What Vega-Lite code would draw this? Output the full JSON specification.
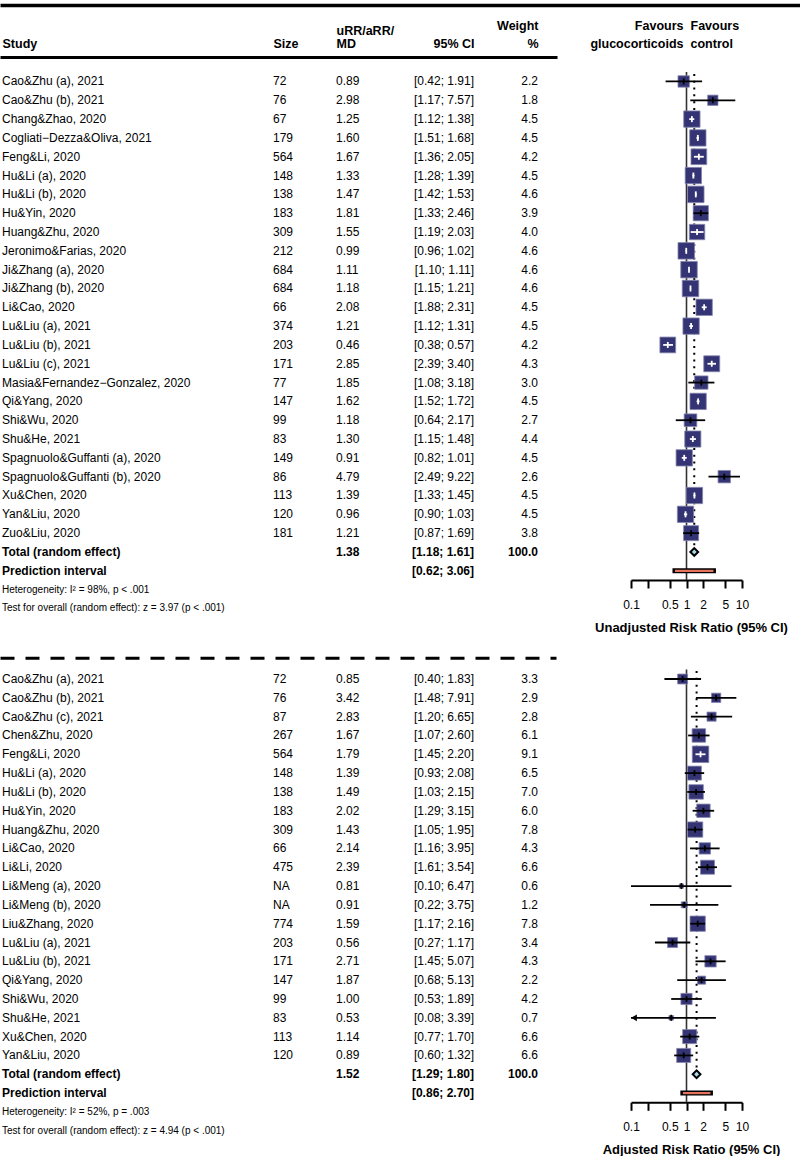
{
  "$schema": "https://vega.github.io/schema/vega-lite/v6.json",
  "padding": {"left": 0, "top": 5, "right": 0, "bottom": 0},
  "background": "white",
  "config": {
    "view": {"stroke": null},
    "font": "Liberation Sans",
    "text": {"font": "Liberation Sans", "fontSize": 12, "color": "black"},
    "axisTop": {"ticks": false, "labels": false, "grid": false, "domainColor": "black", "domainWidth": 3, "domainCap": "butt", "titleFont": "Liberation Sans Narrow, Arial Narrow, Liberation Sans", "titleFontSize": 12.5, "titleFontWeight": "bold", "titleColor": "black", "titlePadding": 7},
    "axisBottom": {"domainColor": "black", "domainWidth": 2, "tickColor": "black", "tickWidth": 2, "tickSize": 8, "labelFont": "Liberation Sans", "labelFontSize": 12, "labelColor": "black", "labelPadding": 11, "labelFlush": false, "labelOverlap": false, "labelBound": false, "titleFont": "Liberation Sans", "titleFontSize": 13, "titleFontWeight": "bold", "titleColor": "black", "titlePadding": 11, "grid": false}
  },
  "datasets": {
    "top": [
      {"row": 0, "kind": "study", "study": "Cao&Zhu (a), 2021", "size": "72", "est": 0.89, "lo": 0.42, "hi": 1.91, "ci": "[0.42; 1.91]", "w": 2.2},
      {"row": 1, "kind": "study", "study": "Cao&Zhu (b), 2021", "size": "76", "est": 2.98, "lo": 1.17, "hi": 7.57, "ci": "[1.17; 7.57]", "w": 1.8},
      {"row": 2, "kind": "study", "study": "Chang&Zhao, 2020", "size": "67", "est": 1.25, "lo": 1.12, "hi": 1.38, "ci": "[1.12; 1.38]", "w": 4.5},
      {"row": 3, "kind": "study", "study": "Cogliati−Dezza&Oliva, 2021", "size": "179", "est": 1.60, "lo": 1.51, "hi": 1.68, "ci": "[1.51; 1.68]", "w": 4.5},
      {"row": 4, "kind": "study", "study": "Feng&Li, 2020", "size": "564", "est": 1.67, "lo": 1.36, "hi": 2.05, "ci": "[1.36; 2.05]", "w": 4.2},
      {"row": 5, "kind": "study", "study": "Hu&Li (a), 2020", "size": "148", "est": 1.33, "lo": 1.28, "hi": 1.39, "ci": "[1.28; 1.39]", "w": 4.5},
      {"row": 6, "kind": "study", "study": "Hu&Li (b), 2020", "size": "138", "est": 1.47, "lo": 1.42, "hi": 1.53, "ci": "[1.42; 1.53]", "w": 4.6},
      {"row": 7, "kind": "study", "study": "Hu&Yin, 2020", "size": "183", "est": 1.81, "lo": 1.33, "hi": 2.46, "ci": "[1.33; 2.46]", "w": 3.9},
      {"row": 8, "kind": "study", "study": "Huang&Zhu, 2020", "size": "309", "est": 1.55, "lo": 1.19, "hi": 2.03, "ci": "[1.19; 2.03]", "w": 4.0},
      {"row": 9, "kind": "study", "study": "Jeronimo&Farias, 2020", "size": "212", "est": 0.99, "lo": 0.96, "hi": 1.02, "ci": "[0.96; 1.02]", "w": 4.6},
      {"row": 10, "kind": "study", "study": "Ji&Zhang (a), 2020", "size": "684", "est": 1.11, "lo": 1.10, "hi": 1.11, "ci": "[1.10; 1.11]", "w": 4.6},
      {"row": 11, "kind": "study", "study": "Ji&Zhang (b), 2020", "size": "684", "est": 1.18, "lo": 1.15, "hi": 1.21, "ci": "[1.15; 1.21]", "w": 4.6},
      {"row": 12, "kind": "study", "study": "Li&Cao, 2020", "size": "66", "est": 2.08, "lo": 1.88, "hi": 2.31, "ci": "[1.88; 2.31]", "w": 4.5},
      {"row": 13, "kind": "study", "study": "Lu&Liu (a), 2021", "size": "374", "est": 1.21, "lo": 1.12, "hi": 1.31, "ci": "[1.12; 1.31]", "w": 4.5},
      {"row": 14, "kind": "study", "study": "Lu&Liu (b), 2021", "size": "203", "est": 0.46, "lo": 0.38, "hi": 0.57, "ci": "[0.38; 0.57]", "w": 4.2},
      {"row": 15, "kind": "study", "study": "Lu&Liu (c), 2021", "size": "171", "est": 2.85, "lo": 2.39, "hi": 3.40, "ci": "[2.39; 3.40]", "w": 4.3},
      {"row": 16, "kind": "study", "study": "Masia&Fernandez−Gonzalez, 2020", "size": "77", "est": 1.85, "lo": 1.08, "hi": 3.18, "ci": "[1.08; 3.18]", "w": 3.0},
      {"row": 17, "kind": "study", "study": "Qi&Yang, 2020", "size": "147", "est": 1.62, "lo": 1.52, "hi": 1.72, "ci": "[1.52; 1.72]", "w": 4.5},
      {"row": 18, "kind": "study", "study": "Shi&Wu, 2020", "size": "99", "est": 1.18, "lo": 0.64, "hi": 2.17, "ci": "[0.64; 2.17]", "w": 2.7},
      {"row": 19, "kind": "study", "study": "Shu&He, 2021", "size": "83", "est": 1.30, "lo": 1.15, "hi": 1.48, "ci": "[1.15; 1.48]", "w": 4.4},
      {"row": 20, "kind": "study", "study": "Spagnuolo&Guffanti (a), 2020", "size": "149", "est": 0.91, "lo": 0.82, "hi": 1.01, "ci": "[0.82; 1.01]", "w": 4.5},
      {"row": 21, "kind": "study", "study": "Spagnuolo&Guffanti (b), 2020", "size": "86", "est": 4.79, "lo": 2.49, "hi": 9.22, "ci": "[2.49; 9.22]", "w": 2.6},
      {"row": 22, "kind": "study", "study": "Xu&Chen, 2020", "size": "113", "est": 1.39, "lo": 1.33, "hi": 1.45, "ci": "[1.33; 1.45]", "w": 4.5},
      {"row": 23, "kind": "study", "study": "Yan&Liu, 2020", "size": "120", "est": 0.96, "lo": 0.90, "hi": 1.03, "ci": "[0.90; 1.03]", "w": 4.5},
      {"row": 24, "kind": "study", "study": "Zuo&Liu, 2020", "size": "181", "est": 1.21, "lo": 0.87, "hi": 1.69, "ci": "[0.87; 1.69]", "w": 3.8},
      {"row": 25, "kind": "total", "study": "Total (random effect)", "est": 1.38, "lo": 1.18, "hi": 1.61, "ci": "[1.18; 1.61]", "w": 100.0},
      {"row": 26, "kind": "pi", "study": "Prediction interval", "lo": 0.62, "hi": 3.06, "ci": "[0.62; 3.06]"},
      {"row": 27, "kind": "het", "study": "Heterogeneity: I² = 98%, p < .001"},
      {"row": 28, "kind": "het", "study": "Test for overall (random effect): z = 3.97 (p < .001)"}
    ],
    "bot": [
      {"row": 0, "kind": "study", "study": "Cao&Zhu (a), 2021", "size": "72", "est": 0.85, "lo": 0.40, "hi": 1.83, "ci": "[0.40; 1.83]", "w": 3.3},
      {"row": 1, "kind": "study", "study": "Cao&Zhu (b), 2021", "size": "76", "est": 3.42, "lo": 1.48, "hi": 7.91, "ci": "[1.48; 7.91]", "w": 2.9},
      {"row": 2, "kind": "study", "study": "Cao&Zhu (c), 2021", "size": "87", "est": 2.83, "lo": 1.20, "hi": 6.65, "ci": "[1.20; 6.65]", "w": 2.8},
      {"row": 3, "kind": "study", "study": "Chen&Zhu, 2020", "size": "267", "est": 1.67, "lo": 1.07, "hi": 2.60, "ci": "[1.07; 2.60]", "w": 6.1},
      {"row": 4, "kind": "study", "study": "Feng&Li, 2020", "size": "564", "est": 1.79, "lo": 1.45, "hi": 2.20, "ci": "[1.45; 2.20]", "w": 9.1},
      {"row": 5, "kind": "study", "study": "Hu&Li (a), 2020", "size": "148", "est": 1.39, "lo": 0.93, "hi": 2.08, "ci": "[0.93; 2.08]", "w": 6.5},
      {"row": 6, "kind": "study", "study": "Hu&Li (b), 2020", "size": "138", "est": 1.49, "lo": 1.03, "hi": 2.15, "ci": "[1.03; 2.15]", "w": 7.0},
      {"row": 7, "kind": "study", "study": "Hu&Yin, 2020", "size": "183", "est": 2.02, "lo": 1.29, "hi": 3.15, "ci": "[1.29; 3.15]", "w": 6.0},
      {"row": 8, "kind": "study", "study": "Huang&Zhu, 2020", "size": "309", "est": 1.43, "lo": 1.05, "hi": 1.95, "ci": "[1.05; 1.95]", "w": 7.8},
      {"row": 9, "kind": "study", "study": "Li&Cao, 2020", "size": "66", "est": 2.14, "lo": 1.16, "hi": 3.95, "ci": "[1.16; 3.95]", "w": 4.3},
      {"row": 10, "kind": "study", "study": "Li&Li, 2020", "size": "475", "est": 2.39, "lo": 1.61, "hi": 3.54, "ci": "[1.61; 3.54]", "w": 6.6},
      {"row": 11, "kind": "study", "study": "Li&Meng (a), 2020", "size": "NA", "est": 0.81, "lo": 0.10, "hi": 6.47, "ci": "[0.10; 6.47]", "w": 0.6},
      {"row": 12, "kind": "study", "study": "Li&Meng (b), 2020", "size": "NA", "est": 0.91, "lo": 0.22, "hi": 3.75, "ci": "[0.22; 3.75]", "w": 1.2},
      {"row": 13, "kind": "study", "study": "Liu&Zhang, 2020", "size": "774", "est": 1.59, "lo": 1.17, "hi": 2.16, "ci": "[1.17; 2.16]", "w": 7.8},
      {"row": 14, "kind": "study", "study": "Lu&Liu (a), 2021", "size": "203", "est": 0.56, "lo": 0.27, "hi": 1.17, "ci": "[0.27; 1.17]", "w": 3.4},
      {"row": 15, "kind": "study", "study": "Lu&Liu (b), 2021", "size": "171", "est": 2.71, "lo": 1.45, "hi": 5.07, "ci": "[1.45; 5.07]", "w": 4.3},
      {"row": 16, "kind": "study", "study": "Qi&Yang, 2020", "size": "147", "est": 1.87, "lo": 0.68, "hi": 5.13, "ci": "[0.68; 5.13]", "w": 2.2},
      {"row": 17, "kind": "study", "study": "Shi&Wu, 2020", "size": "99", "est": 1.00, "lo": 0.53, "hi": 1.89, "ci": "[0.53; 1.89]", "w": 4.2},
      {"row": 18, "kind": "study", "study": "Shu&He, 2021", "size": "83", "est": 0.53, "lo": 0.08, "hi": 3.39, "ci": "[0.08; 3.39]", "w": 0.7},
      {"row": 19, "kind": "study", "study": "Xu&Chen, 2020", "size": "113", "est": 1.14, "lo": 0.77, "hi": 1.70, "ci": "[0.77; 1.70]", "w": 6.6},
      {"row": 20, "kind": "study", "study": "Yan&Liu, 2020", "size": "120", "est": 0.89, "lo": 0.60, "hi": 1.32, "ci": "[0.60; 1.32]", "w": 6.6},
      {"row": 21, "kind": "total", "study": "Total (random effect)", "est": 1.52, "lo": 1.29, "hi": 1.80, "ci": "[1.29; 1.80]", "w": 100.0},
      {"row": 22, "kind": "pi", "study": "Prediction interval", "lo": 0.86, "hi": 2.70, "ci": "[0.86; 2.70]"},
      {"row": 23, "kind": "het", "study": "Heterogeneity: I² = 52%, p = .003"},
      {"row": 24, "kind": "het", "study": "Test for overall (random effect): z = 4.94 (p < .001)"}
    ]
  },
  "resolve": {"scale": {"size": "independent"}},
  "spacing": 0,
  "bounds": "flush",
  "vconcat": [
    {
      "width": 800, "height": 52,
      "data": {"values": [{}]},
      "mark": {"type": "rule", "opacity": 0},
      "encoding": {"x": {"datum": 0, "type": "quantitative", "scale": {"domain": [0, 1]}, "axis": {"orient": "top", "title": null, "domainWidth": 3.5}}}
    },
    {
      "width": 742, "height": 523, "data": {"name": "top"},
      "resolve": {"scale": {"x": "independent"}, "axis": {"x": "independent"}},
      "encoding": {"y": {"field": "row", "type": "quantitative", "scale": {"domain": [-1.3, 26.49], "reverse": true, "nice": false, "zero": false}, "axis": null}},
      "layer": [
        {
          "encoding": {"x": {"datum": 0, "type": "quantitative", "scale": {"domain": [0, 1], "range": [0, 557]}, "axis": {"orient": "top", "title": "Study", "titleAnchor": "start", "titleAlign": "left", "titleX": 2}}},
          "layer": [
            {"transform": [{"filter": "datum.kind == 'study'"}], "mark": {"type": "text", "align": "left", "baseline": "middle", "dx": 2}, "encoding": {"text": {"field": "study", "type": "nominal"}}},
            {"transform": [{"filter": "datum.kind == 'total' || datum.kind == 'pi'"}], "mark": {"type": "text", "align": "left", "baseline": "middle", "dx": 2, "fontWeight": "bold"}, "encoding": {"text": {"field": "study", "type": "nominal"}}},
            {"transform": [{"filter": "datum.kind == 'het'"}], "mark": {"type": "text", "align": "left", "baseline": "middle", "dx": 2, "fontSize": 10}, "encoding": {"text": {"field": "study", "type": "nominal"}}}
          ]
        },
        {
          "transform": [{"filter": "datum.kind == 'study'"}],
          "mark": {"type": "text", "align": "left", "baseline": "middle"},
          "encoding": {
            "x": {"datum": 0, "type": "quantitative", "scale": {"domain": [0, 1], "range": [273, 336]}, "axis": {"orient": "top", "domain": false, "title": "Size", "titleAnchor": "start", "titleAlign": "left"}},
            "text": {"field": "size", "type": "nominal"}
          }
        },
        {
          "encoding": {"x": {"datum": 0, "type": "quantitative", "scale": {"domain": [0, 1], "range": [336, 409]}, "axis": {"orient": "top", "domain": false, "title": ["uRR/aRR/", "MD"], "titleLineHeight": 12.5, "titleAnchor": "start", "titleAlign": "left"}}},
          "layer": [
            {"transform": [{"filter": "datum.kind == 'study'"}], "mark": {"type": "text", "align": "left", "baseline": "middle"}, "encoding": {"text": {"field": "est", "type": "quantitative", "format": ".2f"}}},
            {"transform": [{"filter": "datum.kind == 'total'"}], "mark": {"type": "text", "align": "left", "baseline": "middle", "fontWeight": "bold"}, "encoding": {"text": {"field": "est", "type": "quantitative", "format": ".2f"}}}
          ]
        },
        {
          "encoding": {"x": {"datum": 1, "type": "quantitative", "scale": {"domain": [0, 1], "range": [409, 474]}, "axis": {"orient": "top", "domain": false, "title": "95% CI", "titleAnchor": "end", "titleAlign": "right"}}},
          "layer": [
            {"transform": [{"filter": "datum.kind == 'study'"}], "mark": {"type": "text", "align": "right", "baseline": "middle"}, "encoding": {"text": {"field": "ci", "type": "nominal"}}},
            {"transform": [{"filter": "datum.kind == 'total' || datum.kind == 'pi'"}], "mark": {"type": "text", "align": "right", "baseline": "middle", "fontWeight": "bold"}, "encoding": {"text": {"field": "ci", "type": "nominal"}}}
          ]
        },
        {
          "encoding": {"x": {"datum": 1, "type": "quantitative", "scale": {"domain": [0, 1], "range": [474, 538]}, "axis": {"orient": "top", "domain": false, "title": ["Weight", "%"], "titleLineHeight": 18, "titleAnchor": "end", "titleAlign": "right"}}},
          "layer": [
            {"transform": [{"filter": "datum.kind == 'study'"}], "mark": {"type": "text", "align": "right", "baseline": "middle"}, "encoding": {"text": {"field": "w", "type": "quantitative", "format": ".1f"}}},
            {"transform": [{"filter": "datum.kind == 'total'"}], "mark": {"type": "text", "align": "right", "baseline": "middle", "fontWeight": "bold"}, "encoding": {"text": {"field": "w", "type": "quantitative", "format": ".1f"}}}
          ]
        },
        {
          "transform": [{"filter": "datum.kind == 'total'"}],
          "mark": {"type": "text", "text": "", "opacity": 0},
          "encoding": {"x": {"datum": 0, "type": "quantitative", "scale": {"domain": [0, 1], "range": [683, 700]}, "axis": {"orient": "top", "domain": false, "title": ["Favours", "glucocorticoids"], "titleLineHeight": 18, "titleAnchor": "start", "titleAlign": "right"}}}
        },
        {
          "transform": [{"filter": "datum.kind == 'total'"}],
          "mark": {"type": "text", "text": "", "opacity": 0},
          "encoding": {"x": {"datum": 0, "type": "quantitative", "scale": {"domain": [0, 1], "range": [690, 700]}, "axis": {"orient": "top", "domain": false, "title": ["Favours", "control"], "titleLineHeight": 18, "titleAnchor": "start", "titleAlign": "left"}}}
        },
        {
          "layer": [
            {"transform": [{"filter": "datum.kind == 'pi'"}], "mark": {"type": "rule", "color": "#333333", "strokeWidth": 1.6}, "encoding": {"x": {"datum": 1, "type": "quantitative", "scale": {"type": "log", "domain": [0.1, 10], "range": [631, 742], "nice": false, "clamp": true}}, "y2": {"datum": -0.5}}},
            {"transform": [{"filter": "datum.kind == 'pi'"}], "mark": {"type": "rule", "color": "#333333", "strokeWidth": 1.6}, "encoding": {"x": {"datum": 1, "type": "quantitative", "scale": {"type": "log", "domain": [0.1, 10], "range": [631, 742], "nice": false, "clamp": true}}, "y2": {"datum": 26.49}}},
            {"transform": [{"filter": "datum.kind == 'total'"}], "mark": {"type": "rule", "color": "black", "strokeWidth": 2, "strokeDash": [2, 4.8]}, "encoding": {"x": {"field": "est", "type": "quantitative", "scale": {"type": "log", "domain": [0.1, 10], "range": [631, 742], "nice": false, "clamp": true}}, "y2": {"datum": -0.5}}},
            {"transform": [{"filter": "datum.kind == 'study'"}], "mark": {"type": "square", "fill": "#343475", "stroke": "#8585ad", "strokeWidth": 0.8, "opacity": 1},
             "encoding": {
               "x": {"field": "est", "type": "quantitative", "scale": {"type": "log", "domain": [0.1, 10], "range": [631, 742], "nice": false, "clamp": true},
                     "axis": {"orient": "bottom", "values": [0.1, 0.2, 0.5, 1, 2, 5, 10], "format": "~g", "labelExpr": "datum.value == 0.2 ? '' : datum.label", "title": "Unadjusted Risk Ratio (95% CI)", "titleX": 691}},
               "size": {"field": "w", "type": "quantitative", "scale": {"domain": [0, 4.6], "range": [0, 272]}, "legend": null}
             }},
            {"transform": [{"filter": "datum.kind == 'study'"}], "mark": {"type": "rule", "strokeWidth": 1.8},
             "encoding": {"x": {"field": "lo", "type": "quantitative", "scale": {"type": "log", "domain": [0.1, 10], "range": [631, 742], "nice": false, "clamp": true}}, "x2": {"field": "hi"},
               "color": {"condition": {"test": "max(log(datum.hi/datum.est), log(datum.est/datum.lo))/LN10 < 0.475*sqrt(272*datum.w/4.6)/55.5", "value": "white"}, "value": "black"}}},
            {"transform": [{"filter": "datum.kind == 'study'"}], "mark": {"type": "tick", "orient": "vertical", "size": 6, "thickness": 1.8, "opacity": 1},
             "encoding": {"x": {"field": "est", "type": "quantitative", "scale": {"type": "log", "domain": [0.1, 10], "range": [631, 742], "nice": false, "clamp": true}},
               "color": {"condition": {"test": "max(log(datum.hi/datum.est), log(datum.est/datum.lo))/LN10 < 0.475*sqrt(272*datum.w/4.6)/55.5", "value": "white"}, "value": "black"}}},
            {"transform": [{"filter": "datum.kind == 'pi'"}], "mark": {"type": "rule", "color": "black", "strokeWidth": 5, "strokeCap": "square"}, "encoding": {"x": {"field": "lo", "type": "quantitative", "scale": {"type": "log", "domain": [0.1, 10], "range": [631, 742], "nice": false, "clamp": true}}, "x2": {"field": "hi"}}},
            {"transform": [{"filter": "datum.kind == 'pi'"}], "mark": {"type": "rule", "color": "#E5735C", "strokeWidth": 2.2}, "encoding": {"x": {"field": "lo", "type": "quantitative", "scale": {"type": "log", "domain": [0.1, 10], "range": [631, 742], "nice": false, "clamp": true}}, "x2": {"field": "hi"}}},
            {"transform": [{"filter": "datum.kind == 'total'"}], "mark": {"type": "point", "shape": "diamond", "filled": true, "fill": "#A9D9EA", "stroke": "black", "strokeWidth": 2, "size": 60, "opacity": 1}, "encoding": {"x": {"field": "est", "type": "quantitative", "scale": {"type": "log", "domain": [0.1, 10], "range": [631, 742], "nice": false, "clamp": true}}}}
          ]
        }
      ]
    },
    {
      "width": 556, "height": 77.8,
      "data": {"values": [{}]},
      "mark": {"type": "rule", "opacity": 0},
      "encoding": {"x": {"datum": 0, "type": "quantitative", "scale": {"domain": [0, 1]}, "axis": {"orient": "bottom", "title": null, "ticks": false, "labels": false, "domainDash": [14, 11], "domainWidth": 3, "domainCap": "butt"}}}
    },
    {
      "width": 742, "height": 444.3, "data": {"name": "bot"},
      "resolve": {"scale": {"x": "independent"}, "axis": {"x": "independent"}},
      "encoding": {"y": {"field": "row", "type": "quantitative", "scale": {"domain": [-1.116, 22.49], "reverse": true, "nice": false, "zero": false}, "axis": null}},
      "layer": [
        {
          "encoding": {"x": {"datum": 0, "type": "quantitative", "scale": {"domain": [0, 1], "range": [0, 557]}, "axis": null}},
          "layer": [
            {"transform": [{"filter": "datum.kind == 'study'"}], "mark": {"type": "text", "align": "left", "baseline": "middle", "dx": 2}, "encoding": {"text": {"field": "study", "type": "nominal"}}},
            {"transform": [{"filter": "datum.kind == 'total' || datum.kind == 'pi'"}], "mark": {"type": "text", "align": "left", "baseline": "middle", "dx": 2, "fontWeight": "bold"}, "encoding": {"text": {"field": "study", "type": "nominal"}}},
            {"transform": [{"filter": "datum.kind == 'het'"}], "mark": {"type": "text", "align": "left", "baseline": "middle", "dx": 2, "fontSize": 10}, "encoding": {"text": {"field": "study", "type": "nominal"}}}
          ]
        },
        {
          "transform": [{"filter": "datum.kind == 'study'"}],
          "mark": {"type": "text", "align": "left", "baseline": "middle"},
          "encoding": {
            "x": {"datum": 0, "type": "quantitative", "scale": {"domain": [0, 1], "range": [273, 336]}, "axis": null},
            "text": {"field": "size", "type": "nominal"}
          }
        },
        {
          "encoding": {"x": {"datum": 0, "type": "quantitative", "scale": {"domain": [0, 1], "range": [336, 409]}, "axis": null}},
          "layer": [
            {"transform": [{"filter": "datum.kind == 'study'"}], "mark": {"type": "text", "align": "left", "baseline": "middle"}, "encoding": {"text": {"field": "est", "type": "quantitative", "format": ".2f"}}},
            {"transform": [{"filter": "datum.kind == 'total'"}], "mark": {"type": "text", "align": "left", "baseline": "middle", "fontWeight": "bold"}, "encoding": {"text": {"field": "est", "type": "quantitative", "format": ".2f"}}}
          ]
        },
        {
          "encoding": {"x": {"datum": 1, "type": "quantitative", "scale": {"domain": [0, 1], "range": [409, 474]}, "axis": null}},
          "layer": [
            {"transform": [{"filter": "datum.kind == 'study'"}], "mark": {"type": "text", "align": "right", "baseline": "middle"}, "encoding": {"text": {"field": "ci", "type": "nominal"}}},
            {"transform": [{"filter": "datum.kind == 'total' || datum.kind == 'pi'"}], "mark": {"type": "text", "align": "right", "baseline": "middle", "fontWeight": "bold"}, "encoding": {"text": {"field": "ci", "type": "nominal"}}}
          ]
        },
        {
          "encoding": {"x": {"datum": 1, "type": "quantitative", "scale": {"domain": [0, 1], "range": [474, 538]}, "axis": null}},
          "layer": [
            {"transform": [{"filter": "datum.kind == 'study'"}], "mark": {"type": "text", "align": "right", "baseline": "middle"}, "encoding": {"text": {"field": "w", "type": "quantitative", "format": ".1f"}}},
            {"transform": [{"filter": "datum.kind == 'total'"}], "mark": {"type": "text", "align": "right", "baseline": "middle", "fontWeight": "bold"}, "encoding": {"text": {"field": "w", "type": "quantitative", "format": ".1f"}}}
          ]
        },
        {
          "layer": [
            {"transform": [{"filter": "datum.kind == 'pi'"}], "mark": {"type": "rule", "color": "#333333", "strokeWidth": 1.6}, "encoding": {"x": {"datum": 1, "type": "quantitative", "scale": {"type": "log", "domain": [0.1, 10], "range": [631, 742], "nice": false, "clamp": true}}, "y2": {"datum": -0.5}}},
            {"transform": [{"filter": "datum.kind == 'pi'"}], "mark": {"type": "rule", "color": "#333333", "strokeWidth": 1.6}, "encoding": {"x": {"datum": 1, "type": "quantitative", "scale": {"type": "log", "domain": [0.1, 10], "range": [631, 742], "nice": false, "clamp": true}}, "y2": {"datum": 22.49}}},
            {"transform": [{"filter": "datum.kind == 'total'"}], "mark": {"type": "rule", "color": "black", "strokeWidth": 2, "strokeDash": [2, 4.8]}, "encoding": {"x": {"field": "est", "type": "quantitative", "scale": {"type": "log", "domain": [0.1, 10], "range": [631, 742], "nice": false, "clamp": true}}, "y2": {"datum": -0.5}}},
            {"transform": [{"filter": "datum.kind == 'study'"}], "mark": {"type": "square", "fill": "#343475", "stroke": "#8585ad", "strokeWidth": 0.8, "opacity": 1},
             "encoding": {
               "x": {"field": "est", "type": "quantitative", "scale": {"type": "log", "domain": [0.1, 10], "range": [631, 742], "nice": false, "clamp": true},
                     "axis": {"orient": "bottom", "values": [0.1, 0.2, 0.5, 1, 2, 5, 10], "format": "~g", "labelExpr": "datum.value == 0.2 ? '' : datum.label", "title": "Adjusted Risk Ratio (95% CI)", "titleX": 691}},
               "size": {"field": "w", "type": "quantitative", "scale": {"domain": [0, 9.1], "range": [0, 272]}, "legend": null}
             }},
            {"transform": [{"filter": "datum.kind == 'study'"}], "mark": {"type": "rule", "strokeWidth": 1.8},
             "encoding": {"x": {"field": "lo", "type": "quantitative", "scale": {"type": "log", "domain": [0.1, 10], "range": [631, 742], "nice": false, "clamp": true}}, "x2": {"field": "hi"},
               "color": {"condition": {"test": "max(log(datum.hi/datum.est), log(datum.est/datum.lo))/LN10 < 0.475*sqrt(272*datum.w/9.1)/55.5", "value": "white"}, "value": "black"}}},
            {"transform": [{"filter": "datum.kind == 'study'"}], "mark": {"type": "tick", "orient": "vertical", "size": 6, "thickness": 1.8, "opacity": 1},
             "encoding": {"x": {"field": "est", "type": "quantitative", "scale": {"type": "log", "domain": [0.1, 10], "range": [631, 742], "nice": false, "clamp": true}},
               "color": {"condition": {"test": "max(log(datum.hi/datum.est), log(datum.est/datum.lo))/LN10 < 0.475*sqrt(272*datum.w/9.1)/55.5", "value": "white"}, "value": "black"}}},
            {"transform": [{"filter": "datum.kind == 'study' && datum.lo < 0.1"}], "mark": {"type": "point", "shape": "triangle-left", "filled": true, "color": "black", "size": 45, "opacity": 1, "xOffset": 3}, "encoding": {"x": {"field": "lo", "type": "quantitative", "scale": {"type": "log", "domain": [0.1, 10], "range": [631, 742], "nice": false, "clamp": true}}}},
            {"transform": [{"filter": "datum.kind == 'pi'"}], "mark": {"type": "rule", "color": "black", "strokeWidth": 5, "strokeCap": "square"}, "encoding": {"x": {"field": "lo", "type": "quantitative", "scale": {"type": "log", "domain": [0.1, 10], "range": [631, 742], "nice": false, "clamp": true}}, "x2": {"field": "hi"}}},
            {"transform": [{"filter": "datum.kind == 'pi'"}], "mark": {"type": "rule", "color": "#E5735C", "strokeWidth": 2.2}, "encoding": {"x": {"field": "lo", "type": "quantitative", "scale": {"type": "log", "domain": [0.1, 10], "range": [631, 742], "nice": false, "clamp": true}}, "x2": {"field": "hi"}}},
            {"transform": [{"filter": "datum.kind == 'total'"}], "mark": {"type": "point", "shape": "diamond", "filled": true, "fill": "#A9D9EA", "stroke": "black", "strokeWidth": 2, "size": 60, "opacity": 1}, "encoding": {"x": {"field": "est", "type": "quantitative", "scale": {"type": "log", "domain": [0.1, 10], "range": [631, 742], "nice": false, "clamp": true}}}}
          ]
        }
      ]
    }
  ]
}
